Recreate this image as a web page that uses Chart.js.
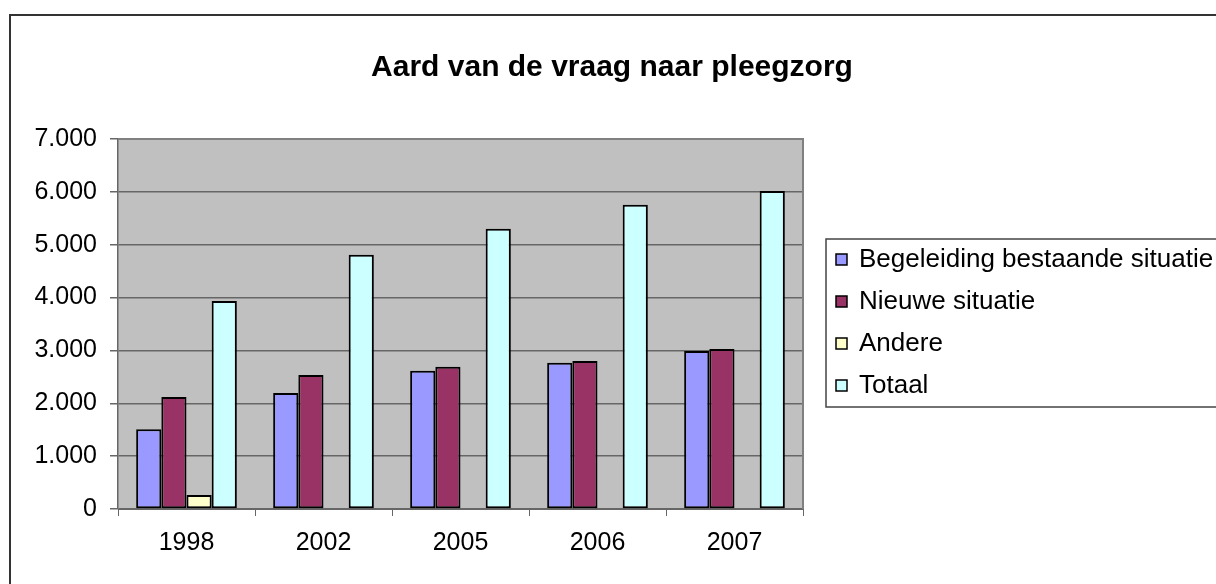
<!DOCTYPE html>
<html>
<head>
<meta charset="utf-8">
<script src="https://cdn.jsdelivr.net/npm/chart.js@4.4.0/dist/chart.umd.min.js"></script>
<style>
  body { margin: 0; background: #fff; }
  canvas { display: block; }
</style>
</head>
<body>
<canvas id="chart" width="1216" height="584"></canvas>
<script>
let years = ['1998', '2002', '2005', '2006', '2007'];
let begeleiding = [1510, 2195, 2615, 2765, 2990];
let nieuwe = [2120, 2535, 2690, 2800, 3025];
let andere = [265, null, null, null, null];
let totaal = [3935, 4810, 5300, 5755, 6015];
let seriesNames = ['Begeleiding bestaande situatie', 'Nieuwe situatie', 'Andere', 'Totaal'];
let yTicks = [0, 1000, 2000, 3000, 4000, 5000, 6000, 7000];
let chartTitle = 'Aard van de vraag naar pleegzorg';

const FONT = '"Liberation Sans", Arial, sans-serif';

function fmt(v) {
    return String(v).replace(/\B(?=(\d{3})+(?!\d))/g, '.');
}

// grey plot area, outer frame and the title (centred on the whole frame)
const frame = {
    id: 'frame',
    beforeDraw(chart) {
        const ctx = chart.ctx;
        const a = chart.chartArea;
        ctx.save();
        ctx.fillStyle = '#fff';
        ctx.fillRect(0, 0, chart.width, chart.height);
        ctx.strokeStyle = '#333';
        ctx.lineWidth = 2;
        ctx.strokeRect(10, 15, chart.width + 20, chart.height + 20);
        ctx.fillStyle = '#c0c0c0';
        ctx.fillRect(a.left, a.top, a.right - a.left, a.bottom - a.top);
        ctx.fillStyle = '#000';
        ctx.font = 'bold 30px ' + FONT;
        ctx.textAlign = 'center';
        ctx.textBaseline = 'middle';
        ctx.fillText(chartTitle, 612, 68);
        ctx.restore();
    },
    afterDatasetsDraw(chart) {
        const ctx = chart.ctx;
        const a = chart.chartArea;
        ctx.save();
        ctx.strokeStyle = '#808080';
        ctx.lineWidth = 2;
        ctx.beginPath();
        ctx.moveTo(a.left, a.top);
        ctx.lineTo(a.right, a.top);
        ctx.lineTo(a.right, a.bottom);
        ctx.stroke();
        ctx.restore();
    }
};

// legend in a box on the right, like the Excel original
const boxLegend = {
    id: 'boxLegend',
    afterDraw(chart) {
        const ctx = chart.ctx;
        const left = 826, top = 239, bottom = 407;
        ctx.save();
        ctx.strokeStyle = '#444';
        ctx.lineWidth = 1.5;
        ctx.strokeRect(left, top, chart.width, bottom - top);
        ctx.font = '26px ' + FONT;
        ctx.textBaseline = 'middle';
        chart.data.datasets.forEach((ds, i) => {
            const y = 259 + i * 42;
            ctx.fillStyle = ds.backgroundColor;
            ctx.fillRect(836, y - 5, 11, 11);
            ctx.strokeStyle = '#000';
            ctx.lineWidth = 1.5;
            ctx.strokeRect(836, y - 5, 11, 11);
            ctx.fillStyle = '#000';
            ctx.fillText(ds.label, 859, y + 1);
        });
        ctx.restore();
    }
};

const colors = ['#9999ff', '#993366', '#ffffcc', '#ccffff'];
const values = [begeleiding, nieuwe, andere, totaal];

const ctx = document.getElementById('chart').getContext('2d');
new Chart(ctx, {
    type: 'bar',
    data: {
        labels: years,
        datasets: seriesNames.map((name, i) => ({
            label: name,
            data: values[i],
            backgroundColor: colors[i],
            borderColor: '#000',
            borderWidth: 2,
            borderSkipped: false,
            barPercentage: 1,
            categoryPercentage: 0.735
        }))
    },
    options: {
        responsive: false,
        animation: false,
        devicePixelRatio: 1,
        layout: {
            padding: { left: 0, right: 413, top: 139, bottom: 0 }
        },
        plugins: {
            legend: { display: false },
            tooltip: { enabled: false },
            title: { display: false }
        },
        scales: {
            x: {
                afterFit(scale) { scale.height = 75; },
                grid: {
                    offset: true,
                    drawOnChartArea: false,
                    drawTicks: true,
                    tickLength: 7,
                    color: '#666'
                },
                border: { color: '#666', width: 1 },
                ticks: {
                    color: '#000',
                    padding: 12,
                    font: { family: FONT, size: 25 }
                }
            },
            y: {
                min: 0,
                max: 7000,
                afterFit(scale) { scale.width = 118; },
                afterBuildTicks(scale) {
                    scale.ticks = yTicks.map(v => ({ value: v }));
                },
                grid: {
                    color: '#666',
                    lineWidth: 1.5,
                    tickLength: 8
                },
                border: { color: '#666', width: 1.5 },
                ticks: {
                    color: '#000',
                    padding: 13,
                    font: { family: FONT, size: 25 },
                    callback: v => fmt(v)
                }
            }
        }
    },
    plugins: [frame, boxLegend]
});
</script>
</body>
</html>
